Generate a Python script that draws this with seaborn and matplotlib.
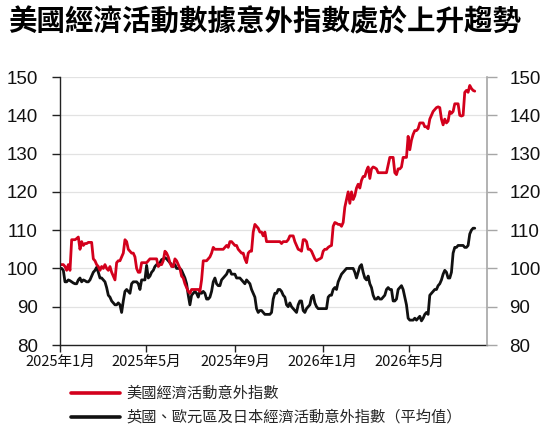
import matplotlib
matplotlib.use("Agg")
import matplotlib.pyplot as plt
import matplotlib.dates as mdates
from matplotlib.lines import Line2D
import seaborn as sns
import pandas as pd
import numpy as np

# ---- data ----
start_date = "2025-01-01"
end_date = "2026-07-31"

us_index = [
    101, 101, 101, 100.5, 99.5, 101, 99.5, 107.5, 107.5, 107.5,
    107.8, 108.2, 105, 107, 106, 106.5, 106.5, 106.8, 106.8, 106.8,
    102.5, 102, 101, 100.5, 99.5, 100.5, 100, 101, 100, 99.5,
    100.5, 99, 98, 97, 101.5, 102, 102, 103, 104, 107.5,
    107, 105, 104.5, 104, 104, 103, 100, 99, 99, 101.5,
    101.5, 101.5, 101.5, 102, 102.5, 102.5, 102.5, 102.5, 102.5, 100.5,
    101, 101, 102, 104.5, 104, 103, 101.5, 100.5, 100.5, 102.5,
    102, 101, 100, 98, 97.5, 96, 95, 94, 93.5, 94.5,
    94.5, 94.5, 94.5, 94.5, 94, 97, 102, 102, 102, 102.5,
    103, 104, 105.5, 105, 105, 105, 105, 105, 105, 105.5,
    106, 105.5, 107, 107, 106.5, 106, 106, 105, 104.5, 104,
    104, 102.5, 101.5, 104, 104.5, 104.5, 109.5, 111.5, 111, 110.5,
    109.5, 109.5, 108.5, 109.5, 107, 107, 107, 107, 107, 107,
    107, 107, 107, 106.5, 107, 107, 107, 107.5, 108.5, 108.5,
    108.5, 107, 106, 105, 104.8, 104.5, 107.5, 107.5, 107, 105,
    105, 104.5, 103.5, 102.5, 102, 102.3, 102.5, 102.8, 104.5, 105,
    105, 105.5, 105.8, 106, 111, 112, 111.8, 111.5, 111.5, 111,
    112, 116, 118, 120, 117, 120, 118, 119, 121, 122,
    121, 123, 124, 124, 125.5, 126.5, 123.5, 126, 126.5, 126.3,
    126, 125, 125, 125, 125, 125, 125, 127, 129, 129,
    129, 125, 124.5, 126, 126, 126.5, 129, 129, 129, 134.5,
    131, 133.5, 135, 136, 136, 136.5, 138, 138, 138, 137,
    137, 136.5, 139, 140, 141, 141.5, 142, 142.2, 142, 139,
    137.5, 139, 138, 138.5, 141, 140.5, 141, 143, 143, 143,
    140, 139.8, 140, 146, 146.5, 146, 147.8, 147, 146.5, 146.3,
]

others_index = [
    100, 100, 99.5, 96.5, 96.5, 97, 96.8, 96.5, 96.2, 96,
    96, 97, 97.5, 96.5, 97, 96.8, 96.5, 96.5, 97, 98,
    99, 99.5, 100.3, 99, 97.5, 97.5, 97, 96.5, 95, 93,
    92.5, 91.5, 91, 90.5, 90.5, 91, 90.5, 88.5, 91.5, 94,
    94.5, 94, 93.5, 96, 96.5, 96.5, 96.5, 96, 94.5, 97,
    97, 97, 100.8, 97.5, 98, 99, 99.5, 100.5, 101, 101.2,
    101.5, 102.3, 102.5, 102.8, 102.5, 102, 101.5, 101, 100.5, 101,
    100, 100, 100, 99.5, 98.5, 97.5, 96, 93, 90.5, 93,
    93.5, 94, 93.5, 92.5, 94, 93.5, 94, 93.5, 92, 92,
    92.5, 94, 96.5, 97.5, 96, 95.5, 95.5, 97, 97.5, 98,
    98.5, 99.5, 99.5, 98.5, 98.5, 98.5, 97.5, 97.5, 97.5, 97,
    96.5, 96, 97, 96.5, 96, 94.5, 93.5, 92.5, 89.5, 88.5,
    89, 89, 88.5, 88, 88, 88, 88, 88.5, 92, 93.5,
    93.5, 94.5, 94.5, 94, 93, 92.5, 90.5, 90, 91, 90,
    89.5, 89, 88.5, 90.5, 91.5, 91.5, 89, 88.5, 89.5, 90,
    90.5, 92.5, 93, 91, 90, 89.5, 89.5, 89.5, 89.5, 89.5,
    89.5, 92.5, 93, 93, 94.5, 95, 94.5, 96.5, 97.5, 98.5,
    99, 99.5, 100, 100, 100, 100, 100, 99, 97.5, 99,
    100.5, 101, 99, 97.5, 97, 98, 96, 95, 93, 92,
    92, 92.5, 92, 92, 92.5, 93, 94.5, 95, 94.5, 94.5,
    91.5, 91.5, 92, 94.5, 95, 95.5, 94.5, 92.5, 90.5, 87,
    86.5, 86.5, 86.5, 87, 86.5, 87, 87.5, 86.3, 87, 88,
    88.5, 88, 93, 93.5, 94, 94.5, 94.5, 95.5, 96, 97,
    98.5, 99.5, 99, 97.5, 97.5, 99, 104, 105.5, 105.5, 106,
    106, 106, 106, 105.5, 105.5, 106, 109, 110, 110.5, 110.5,
]

tick_dates = ["2025-01-01", "2025-05-01", "2025-09-01", "2026-01-01", "2026-05-01"]
tick_labels = ["2025年1月", "2025年5月", "2025年9月", "2026年1月", "2026年5月"]
y_ticks = [80, 90, 100, 110, 120, 130, 140, 150]

title = "美國經濟活動數據意外指數處於上升趨勢"
label_us = "美國經濟活動意外指數"
label_others = "英國、歐元區及日本經濟活動意外指數（平均值）"

# ---- build table ----
dates = pd.date_range(start_date, end_date, periods=len(us_index))
df = pd.DataFrame({"date": dates, "us": us_index, "others": others_index})

sns.set_theme(style="white")
plt.rcParams["font.family"] = ["Noto Sans CJK TC", "DejaVu Sans"]

RED = "#D3001C"
BLACK = "#111111"
GREY = "#A6A6A6"

fig = plt.figure(figsize=(5.41, 4.26), dpi=100)
ax = fig.add_axes([60 / 541, 1 - 345 / 426, 427 / 541, 268 / 426])

sns.lineplot(data=df, x="date", y="others", ax=ax, color=BLACK, linewidth=2.0)
sns.lineplot(data=df, x="date", y="us", ax=ax, color=RED, linewidth=2.0)

ax.set_xlim(pd.Timestamp("2025-01-01"), pd.Timestamp("2026-08-17"))
ax.set_ylim(80, 150)
ax.set_yticks(y_ticks)
ax.set_xticks(pd.to_datetime(tick_dates))
ax.set_xticklabels(tick_labels, fontsize=10.5, family=["Noto Sans CJK TC", "DejaVu Sans"])
ax.set_yticklabels([str(v) for v in y_ticks], fontsize=13.5, family="Liberation Sans")
ax.set_xlabel("")
ax.set_ylabel("")
ax.grid(axis="y", color="#E2E2E2", linewidth=0.9)
ax.set_axisbelow(True)

for s in ["top", "right"]:
    ax.spines[s].set_visible(False)
ax.spines["left"].set_color("#222222")
ax.spines["bottom"].set_color("#222222")
ax.spines["left"].set_linewidth(1.0)
ax.spines["bottom"].set_linewidth(1.0)
ax.tick_params(axis="y", which="both", left=True, length=6, width=1.0, color="#222222", pad=10, labelcolor="#111111")
ax.tick_params(axis="x", which="both", bottom=True, length=5, width=1.0, color="#222222", pad=2, labelcolor="#111111")

ax2 = ax.twinx()
ax2.set_ylim(80, 150)
ax2.set_yticks(y_ticks)
ax2.set_yticklabels([str(v) for v in y_ticks], fontsize=13.5, family="Liberation Sans")
for s in ["top", "left", "bottom"]:
    ax2.spines[s].set_visible(False)
ax2.spines["right"].set_color(GREY)
ax2.spines["right"].set_linewidth(1.2)
ax2.tick_params(axis="y", right=True, length=7, width=1.0, color=GREY, pad=9, labelcolor="#111111")
ax2.grid(False)

fig.text(8 / 541, 1 - 22 / 426, title, fontsize=20.5, fontweight="bold",
         va="center", ha="left", color="#000000")

handles = [Line2D([0], [0], color=RED, linewidth=2.6),
           Line2D([0], [0], color=BLACK, linewidth=2.6)]
fig.legend(handles, [label_us, label_others], loc="upper left",
           bbox_to_anchor=(71 / 541, 1 - 385 / 426), frameon=False,
           fontsize=11, handlelength=3.2, handletextpad=0.4,
           labelspacing=0.45, borderpad=0, borderaxespad=0)

fig.savefig("out.png", dpi=100)
